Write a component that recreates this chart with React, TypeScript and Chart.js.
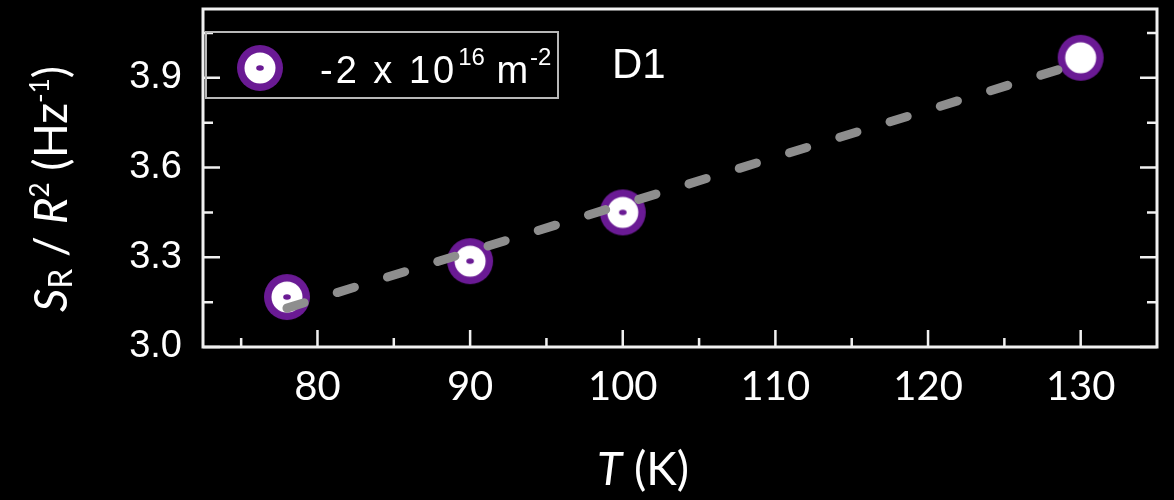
import React, { useEffect, useRef } from "react";
import { Chart, registerables } from "chart.js";

Chart.register(...registerables);

// ---- data ----
const temps = [78, 90, 100, 130];
const srValues = [3.167, 3.287, 3.45, 3.967];
const fitTemps = [78, 130];
const fitValues = [3.13, 3.95];
const xMajorTicks = [80, 90, 100, 110, 120, 130];
const xMinorTicks = [75, 85, 95, 105, 115, 125];
const yMajorTicks = [3.0, 3.3, 3.6, 3.9];
const yMinorTicks = [3.15, 3.45, 3.75, 4.05];
const legendParts = ["-2 x 10", "16", " m", "-2"];
const panelLabel = "D1";

const PURPLE = "#6a1a94";
const WHITE = "#ffffff";
const FIT_GRAY = "#8e8e8e";

function makeMarker(withDot: boolean): HTMLCanvasElement {
  const c = document.createElement("canvas");
  c.width = 48;
  c.height = 48;
  const g = c.getContext("2d")!;
  g.fillStyle = PURPLE;
  g.beginPath();
  g.arc(24, 24, 23, 0, Math.PI * 2);
  g.fill();
  g.fillStyle = WHITE;
  g.beginPath();
  g.arc(24, 24, 15.5, 0, Math.PI * 2);
  g.fill();
  if (withDot) {
    g.fillStyle = PURPLE;
    g.beginPath();
    g.ellipse(24, 24, 3.8, 2.8, 0, 0, Math.PI * 2);
    g.fill();
  }
  return c;
}

const framePlugin = {
  id: "frameTicks",
  beforeDatasetsDraw(chart: any) {
    const { ctx, chartArea, scales } = chart;
    const { left, right, top, bottom } = chartArea;
    const x = scales.x;
    const y = scales.y;
    ctx.save();
    ctx.strokeStyle = "#f0f0f0";
    ctx.lineWidth = 3;
    ctx.strokeRect(left, top, right - left, bottom - top);
    ctx.lineWidth = 2.5;
    ctx.beginPath();
    const xt = (vals: number[], len: number) => {
      vals.forEach((v) => {
        const p = x.getPixelForValue(v);
        ctx.moveTo(p, bottom);
        ctx.lineTo(p, bottom - len);
      });
    };
    const yt = (vals: number[], len: number) => {
      vals.forEach((v) => {
        const p = y.getPixelForValue(v);
        ctx.moveTo(left, p);
        ctx.lineTo(left + len, p);
        ctx.moveTo(right, p);
        ctx.lineTo(right - len, p);
      });
    };
    xt(xMajorTicks, 17);
    xt(xMinorTicks, 9);
    yt(yMajorTicks, 17);
    yt(yMinorTicks, 10);
    ctx.stroke();
    ctx.restore();
  },
};

type Run = { t: string; font: string; dy: number };

function drawRuns(ctx: CanvasRenderingContext2D, runs: Run[], startX: number, baseY: number) {
  let cx = startX;
  runs.forEach((r) => {
    ctx.font = r.font;
    ctx.fillText(r.t, cx, baseY + r.dy);
    cx += ctx.measureText(r.t).width;
  });
}

function runsWidth(ctx: CanvasRenderingContext2D, runs: Run[]) {
  let w = 0;
  runs.forEach((r) => {
    ctx.font = r.font;
    w += ctx.measureText(r.t).width;
  });
  return w;
}

const makeAnnotPlugin = (legendMarker: HTMLCanvasElement) => ({
  id: "annotations",
  afterDraw(chart: any) {
    const { ctx, chartArea } = chart;
    const { left } = chartArea;
    ctx.save();
    // legend box
    ctx.strokeStyle = "#b8b8b8";
    ctx.lineWidth = 2;
    ctx.strokeRect(left + 3, 32, 352, 66);
    ctx.drawImage(legendMarker, 260 - 24, 68 - 24);
    ctx.fillStyle = WHITE;
    ctx.textBaseline = "alphabetic";
    ctx.textAlign = "left";
    (ctx as any).letterSpacing = "3px";
    ctx.font = "38px 'Liberation Sans', Arial, sans-serif";
    ctx.fillText(legendParts[0], 320, 83);
    let cx = 320 + ctx.measureText(legendParts[0]).width;
    (ctx as any).letterSpacing = "0px";
    ctx.font = "24px 'Liberation Sans', Arial, sans-serif";
    ctx.fillText(legendParts[1], cx + 1, 65);
    cx += ctx.measureText(legendParts[1]).width + 1;
    (ctx as any).letterSpacing = "1px";
    ctx.font = "38px 'Liberation Sans', Arial, sans-serif";
    ctx.fillText(legendParts[2], cx, 83);
    cx += ctx.measureText(legendParts[2]).width;
    (ctx as any).letterSpacing = "0px";
    ctx.font = "24px 'Liberation Sans', Arial, sans-serif";
    ctx.fillText(legendParts[3], cx + 1, 65);

    // panel label
    ctx.font = "42px 'Liberation Sans', Arial, sans-serif";
    ctx.fillText(panelLabel, 612, 78);

    // x title: T (K)
    const xRuns: Run[] = [
      { t: "T", font: "italic 46px Lato, sans-serif", dy: 0 },
      { t: " (K)", font: "46px Lato, sans-serif", dy: 0 },
    ];
    const xw = runsWidth(ctx, xRuns);
    drawRuns(ctx, xRuns, 643 - xw / 2, 485);

    // y title: S_R / R^2 (Hz^-1)
    const yRuns: Run[] = [
      { t: "S", font: "italic 46px Lato, sans-serif", dy: 0 },
      { t: "R", font: "32px Lato, sans-serif", dy: 5 },
      { t: " / ", font: "46px Lato, sans-serif", dy: 0 },
      { t: "R", font: "italic 46px Lato, sans-serif", dy: 0 },
      { t: "2", font: "26px Lato, sans-serif", dy: -18 },
      { t: " (Hz", font: "46px Lato, sans-serif", dy: 0 },
      { t: "-1", font: "26px Lato, sans-serif", dy: -18 },
      { t: ")", font: "46px Lato, sans-serif", dy: 0 },
    ];
    const yw = runsWidth(ctx, yRuns);
    ctx.translate(67, 189);
    ctx.rotate(-Math.PI / 2);
    drawRuns(ctx, yRuns, -yw / 2, 0);
    ctx.restore();
  },
});

export default function App() {
  const canvasRef = useRef<HTMLCanvasElement | null>(null);

  useEffect(() => {
    const canvas = canvasRef.current;
    if (!canvas) return;
    const dotMarker = makeMarker(true);
    const plainMarker = makeMarker(false);
    const pointStyles = srValues.map((_, i) => (i === srValues.length - 1 ? plainMarker : dotMarker));

    const chart = new Chart(canvas, {
      type: "scatter",
      data: {
        datasets: [
          {
            label: "fit",
            data: fitTemps.map((t, i) => ({ x: t, y: fitValues[i] })),
            showLine: true,
            borderColor: FIT_GRAY,
            borderWidth: 9,
            borderDash: [18, 34.6],
            borderCapStyle: "round",
            pointRadius: 0,
            order: 0,
          } as any,
          {
            label: "-2 x 10^16 m^-2",
            data: temps.map((t, i) => ({ x: t, y: srValues[i] })),
            showLine: false,
            pointStyle: pointStyles as any,
            pointRadius: 24,
            order: 1,
          } as any,
        ],
      },
      options: {
        animation: false,
        responsive: true,
        maintainAspectRatio: false,
        layout: { autoPadding: false, padding: { left: 0, top: 9, right: 17, bottom: 0 } },
        plugins: {
          legend: { display: false },
          tooltip: { enabled: false },
        },
        scales: {
          x: {
            type: "linear",
            min: 72.5,
            max: 135,
            grid: { display: false, drawTicks: false },
            border: { display: false },
            ticks: {
              color: WHITE,
              font: { family: "Lato", size: 40 },
              padding: 16,
              autoSkip: false,
              maxRotation: 0,
              callback: (v: any) => String(v),
            },
            afterBuildTicks: (s: any) => {
              s.ticks = xMajorTicks.map((v) => ({ value: v }));
            },
            afterFit: (s: any) => {
              s.height = 153;
              s.paddingLeft = 0;
              s.paddingRight = 0;
            },
          },
          y: {
            type: "linear",
            min: 3.0,
            max: 4.13,
            grid: { display: false, drawTicks: false },
            border: { display: false },
            ticks: {
              color: WHITE,
              font: { family: "'Liberation Sans', Arial, sans-serif", size: 38 },
              padding: 21,
              autoSkip: false,
              callback: (v: any) => Number(v).toFixed(1),
            },
            afterBuildTicks: (s: any) => {
              s.ticks = yMajorTicks.map((v) => ({ value: v }));
            },
            afterFit: (s: any) => {
              s.width = 203;
              s.paddingTop = 0;
              s.paddingBottom = 0;
            },
          },
        },
      },
      plugins: [framePlugin, makeAnnotPlugin(dotMarker)],
    });
    return () => chart.destroy();
  }, []);

  return (
    <div
      style={{
        position: "fixed",
        left: 0,
        top: 0,
        width: 1174,
        height: 500,
        background: "#000",
      }}
    >
      <canvas ref={canvasRef} />
    </div>
  );
}
